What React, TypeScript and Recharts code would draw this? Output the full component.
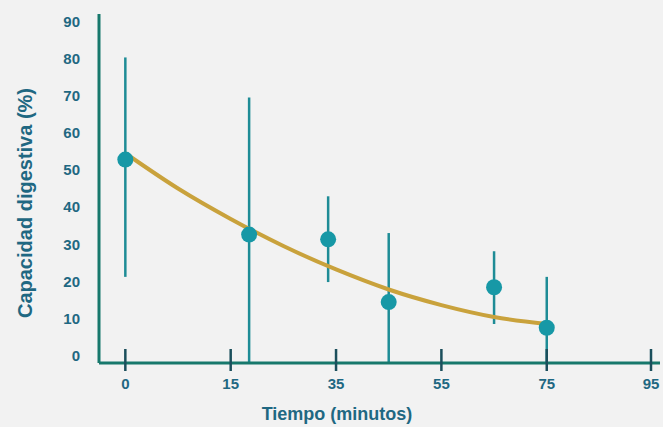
import React from 'react';
import { ComposedChart, Scatter, Line, XAxis, YAxis, ErrorBar, Label } from 'recharts';

// x is in axis-position units: the printed tick labels are not evenly spaced in value
const tickPositions = [0, 20, 40, 60, 80, 100];
const tickLabels = ['0', '15', '35', '55', '75', '95'];
const yTicks = [0, 10, 20, 30, 40, 50, 60, 70, 80, 90];

const pointX = [0, 23.5, 38.5, 50, 70, 80];
const pointY = [52.8, 32.6, 31.3, 14.4, 18.4, 7.5];
const errLow = [21.2, -2, 19.8, -2, 8.5, -2];
const errHigh = [80.3, 69.5, 42.9, 33, 28.1, 21.2];

const curveX = [0, 10, 20, 30, 40, 50, 60, 70, 80];
const curveY = [54.5, 45, 36.8, 29.5, 23.2, 17.8, 13.6, 10.4, 8.5];

const points = pointX.map((x, i) => ({
  x,
  y: pointY[i],
  err: [pointY[i] - errLow[i], errHigh[i] - pointY[i]],
}));
const curve = curveX.map((x, i) => ({ x, y: curveY[i] }));

const TEXT = '#1f6882';
const AXIS = '#17786c';
const FONT = '"Liberation Sans", Arial, sans-serif';

const XTick = (props: any) => {
  const { x, y, payload } = props;
  const idx = tickPositions.indexOf(payload.value);
  return (
    <g>
      <line x1={x} x2={x} y1={y - 14} y2={y + 8} stroke="#1b4f5c" strokeWidth={2.5} />
      <text x={x} y={y + 26} textAnchor="middle" fill={TEXT} fontSize={15} fontWeight="bold" fontFamily={FONT}>
        {tickLabels[idx]}
      </text>
    </g>
  );
};

const Dot = (props: any) => {
  const { cx, cy } = props;
  return <circle cx={cx} cy={cy} r={8} fill="#1798a6" />;
};

export default function App() {
  return (
    <div style={{ position: 'absolute', left: 0, top: 0, width: 663, height: 427, background: '#f2f2f2' }}>
      <ComposedChart width={663} height={427} margin={{ top: 14, right: 3, bottom: 0, left: 0 }}>
        <XAxis
          type="number"
          dataKey="x"
          domain={[-5, 101.5]}
          ticks={tickPositions}
          tick={<XTick />}
          tickLine={false}
          tickSize={0}
          tickMargin={0}
          height={64}
          axisLine={{ stroke: AXIS, strokeWidth: 3 }}
          allowDataOverflow
        >
          <Label
            content={() => (
              <text x={337} y={420} textAnchor="middle" fill={TEXT} fontSize={18} fontWeight="bold" fontFamily={FONT}>
                Tiempo (minutos)
              </text>
            )}
          />
        </XAxis>
        <YAxis
          type="number"
          domain={[-2, 92]}
          ticks={yTicks}
          width={99}
          tickLine={false}
          tickSize={0}
          tickMargin={19}
          tick={{ fill: TEXT, fontSize: 15, fontWeight: 'bold', fontFamily: FONT }}
          axisLine={{ stroke: AXIS, strokeWidth: 3 }}
          allowDataOverflow
        >
          <Label
            content={() => (
              <text
                x={25}
                y={203}
                transform="rotate(-90 25 203)"
                textAnchor="middle"
                dominantBaseline="central"
                fill={TEXT}
                fontSize={20}
                fontWeight="bold"
                fontFamily={FONT}
              >
                Capacidad digestiva (%)
              </text>
            )}
          />
        </YAxis>
        <Scatter data={points} dataKey="y" shape={() => null as any} isAnimationActive={false}>
          <ErrorBar dataKey="err" direction="y" width={0} stroke="#1e8c96" strokeWidth={2.5} isAnimationActive={false} />
        </Scatter>
        <Line
          data={curve}
          dataKey="y"
          type="monotone"
          stroke="#c9a23c"
          strokeWidth={4}
          dot={false}
          activeDot={false}
          isAnimationActive={false}
        />
        <Scatter data={points} dataKey="y" shape={<Dot />} isAnimationActive={false} />
      </ComposedChart>
    </div>
  );
}
